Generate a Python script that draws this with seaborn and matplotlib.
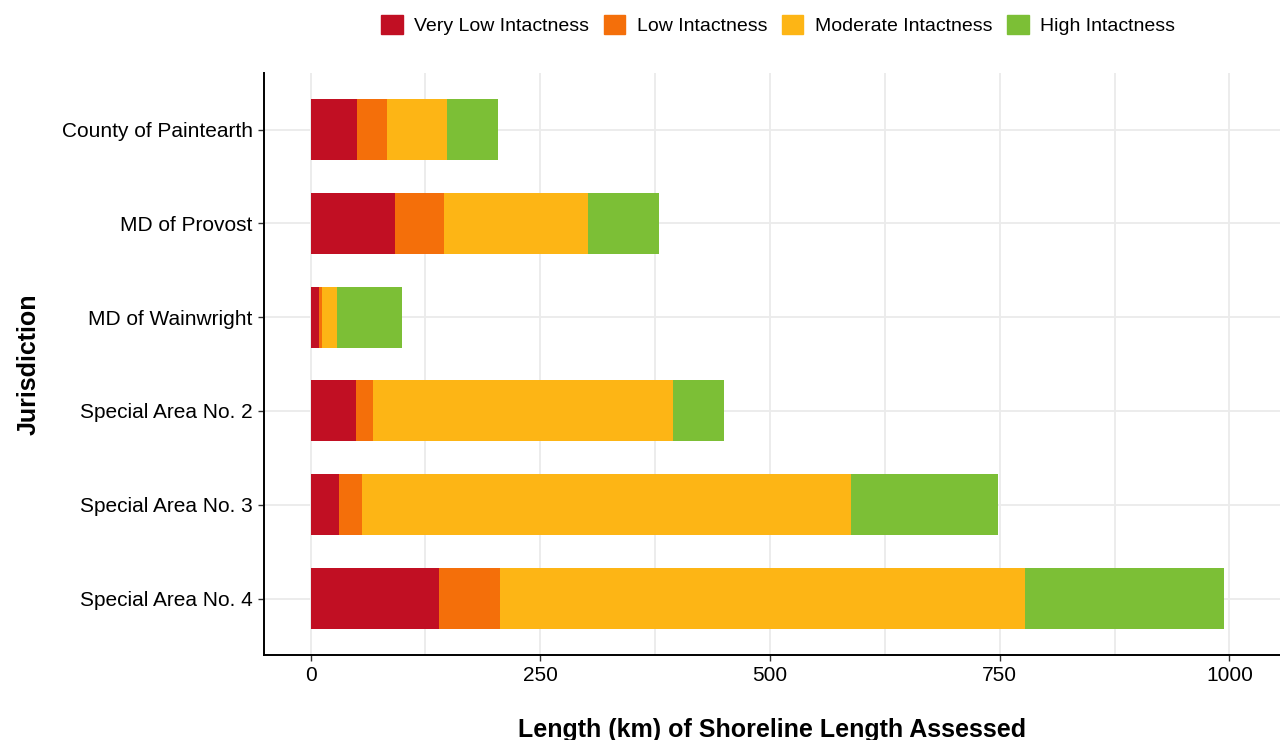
import pandas as pd
import seaborn as sns
import matplotlib.pyplot as plt
import matplotlib.patches as mpatches
from matplotlib.ticker import MultipleLocator

# datos (km)
jurisdictions = ["County of Paintearth", "MD of Provost", "MD of Wainwright",
                 "Special Area No. 2", "Special Area No. 3", "Special Area No. 4"]
very_low = [51, 92, 9, 50, 31, 140]
low = [32, 53, 4, 18, 25, 66]
moderate = [66, 157, 16, 326, 532, 572]
high = [55, 77, 71, 56, 160, 216]

classes = ["Very Low Intactness", "Low Intactness", "Moderate Intactness", "High Intactness"]
colors = ["#C10F23", "#F46F0A", "#FDB515", "#7CBF36"]

df = pd.DataFrame({"jurisdiction": jurisdictions,
                   classes[0]: very_low, classes[1]: low,
                   classes[2]: moderate, classes[3]: high})
# acumulados para apilar
cum = df[classes].cumsum(axis=1)
cum["jurisdiction"] = df["jurisdiction"]

sns.set_style("white")
plt.rcParams["font.family"] = ["Liberation Sans", "DejaVu Sans"]

fig = plt.figure(figsize=(12.8, 7.4), dpi=100)
ax = fig.add_axes([0.206, 0.115, 0.794, 0.786])

# dibujar de mayor a menor para que los segmentos queden encima
for cls, col in reversed(list(zip(classes, colors))):
    sns.barplot(data=cum, y="jurisdiction", x=cls, order=jurisdictions,
                color=col, width=0.65, ax=ax, saturation=1, linewidth=0,
                orient="h")

ax.set_xlim(-51, 1055)
ax.set_ylim(5.6, -0.6)
ax.xaxis.set_major_locator(MultipleLocator(250))
ax.xaxis.set_minor_locator(MultipleLocator(125))
ax.grid(True, which="both", axis="x", color="#EBEBEB", linewidth=1.3)
ax.grid(True, which="major", axis="y", color="#EBEBEB", linewidth=1.3)
ax.set_axisbelow(True)

for s in ["top", "right"]:
    ax.spines[s].set_visible(False)
for s in ["left", "bottom"]:
    ax.spines[s].set_color("black")
    ax.spines[s].set_linewidth(1.4)

ax.tick_params(axis="both", which="major", length=4, width=1, color="#333333",
               labelsize=15, labelcolor="black", pad=4, bottom=True, left=True)
ax.tick_params(axis="x", which="minor", length=0)

ax.set_xlabel("Length (km) of Shoreline Length Assessed", fontsize=18,
              fontweight="bold", labelpad=24, color="black")
ax.set_ylabel("Jurisdiction", fontsize=18, fontweight="bold", labelpad=15,
              color="black")

handles = [mpatches.Patch(color=c, label=l) for l, c in zip(classes, colors)]
fig.legend(handles=handles, loc="center", ncol=4, bbox_to_anchor=(0.608, 0.966),
           frameon=False, fontsize=14, handlelength=1.1, handleheight=1.1,
           handletextpad=0.6, columnspacing=0.75, labelcolor="black")

plt.savefig("out.png", dpi=100)
